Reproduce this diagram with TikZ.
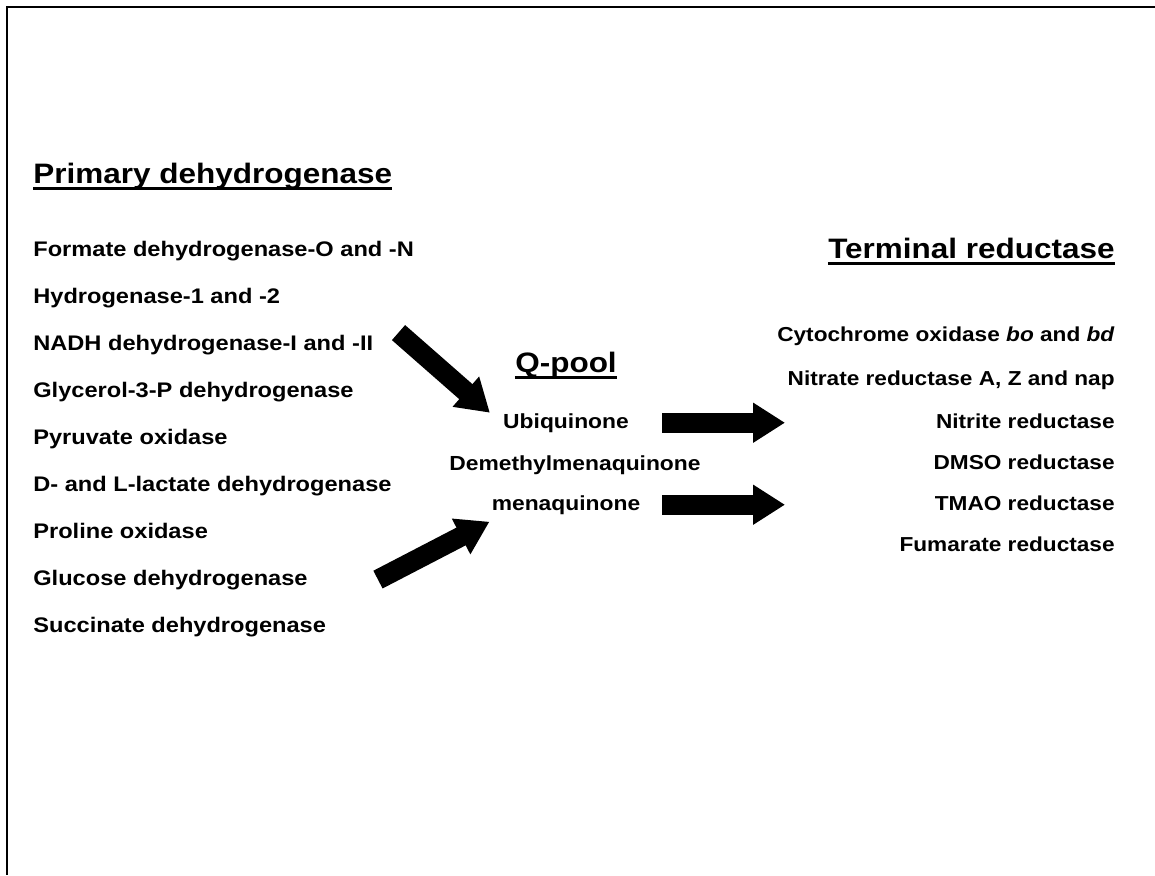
\documentclass[tikz,border=0pt]{standalone}
\usepackage{fontspec}
\setmainfont[FakeStretch=1.12]{Liberation Sans}
\usetikzlibrary{arrows.meta,calc}

\begin{document}
\begin{tikzpicture}[x=0.02cm,y=-0.02cm,
    head/.style={font=\fontsize{16}{19}\selectfont\bfseries,inner sep=0pt},
    dehyd/.style={font=\fontsize{12}{14}\selectfont\bfseries,inner sep=0pt},
    quin/.style={font=\fontsize{11.6}{14}\selectfont\bfseries,inner sep=0pt,anchor=base},
    reduc/.style={font=\fontsize{11.5}{14}\selectfont\bfseries,inner sep=0pt,anchor=base east},
    uline/.style={line width=1.6pt},
    fat/.style={line width=0.4cm,-{Triangle[length=0.64cm,width=0.76cm]}}]
    \useasboundingbox (0,0) rectangle (1155,875);
    % frame
    \draw[line width=1.1pt] (1155,7) -- (7,7) -- (7,875);
    % primary dehydrogenases
    \node[head,anchor=base west] (prim) at (33,183) {Primary dehydrogenase};
    \foreach \n/\t [count=\i from 0] in {fdh/Formate dehydrogenase-O and -N,hyd/Hydrogenase-1 and -2,nadh/NADH dehydrogenase-I and -II,glp/Glycerol-3-P dehydrogenase,pox/Pyruvate oxidase,ldh/D- and L-lactate dehydrogenase,pro/Proline oxidase,gcd/Glucose dehydrogenase,sdh/Succinate dehydrogenase}
      \node[dehyd,anchor=base west] (\n) at (33,256+47*\i) {\t};
    % quinone pool
    \node[head,anchor=base] (qpool) at (566,372) {Q-pool};
    \node[quin] (ubi) at (566,428) {Ubiquinone};
    \node[quin] (dmk) at (575,470) {Demethylmenaquinone};
    \node[quin] (mena) at (566,510) {menaquinone};
    % terminal reductases
    \node[head,anchor=base east] (term) at (1115,258) {Terminal reductase};
    \foreach \n/\t/\y in {cyo/{Cytochrome oxidase \textit{bo} and \textit{bd}}/341,nar/{Nitrate reductase A, Z and nap}/385,nir/Nitrite reductase/428,dms/DMSO reductase/469,tor/TMAO reductase/510,frd/Fumarate reductase/551}
      \node[reduc] (\n) at (1115,\y) {\t};
    \foreach \h in {prim,qpool,term}
      \draw[uline] ([yshift=-3pt]\h.base west) -- ([yshift=-3pt]\h.base east);
    % arrows
    \coordinate (nirin) at (785,421);
    \coordinate (torin) at (785,503);
    \draw[fat] ($(nadh.east)+(25,-12)$) -- ($(ubi.west)+(-13,-10)$);
    \draw[fat] ($(gcd.east)+(70,0)$) -- ($(mena.west)+(-2,17)$);
    \draw[fat] (ubi.east -| 662,0) -- (ubi.east -| nirin);
    \draw[fat] (mena.east -| 662,0) -- (mena.east -| torin);
\end{tikzpicture}
\end{document}
